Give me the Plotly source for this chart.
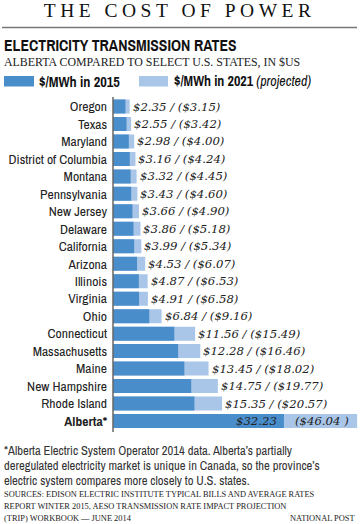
import plotly.graph_objects as go

states = ["Oregon", "Texas", "Maryland", "District of Columbia", "Montana",
          "Pennsylvania", "New Jersey", "Delaware", "California", "Arizona",
          "Illinois", "Virginia", "Ohio", "Connecticut", "Massachusetts",
          "Maine", "New Hampshire", "Rhode Island", "Alberta*"]
rate_2015 = [2.35, 2.55, 2.98, 3.16, 3.32, 3.43, 3.66, 3.86, 3.99, 4.53,
             4.87, 4.91, 6.84, 11.56, 12.28, 13.45, 14.75, 15.35, 32.23]
rate_2021 = [3.15, 3.42, 4.00, 4.24, 4.45, 4.60, 4.90, 5.18, 5.34, 6.07,
             6.53, 6.58, 9.16, 15.49, 16.46, 18.02, 19.77, 20.57, 46.04]

W, H = 360, 524
DARK = "#4a8dcb"
LIGHT = "#a9c6e9"
SANS_N = "Archivo Narrow, Roboto Condensed, DejaVu Sans Condensed, Roboto, sans-serif"
SERIF = "Liberation Serif, DejaVu Serif, serif"
SERIF_IT = "DejaVu Serif, Liberation Serif, serif"


def px(x):
    return x / W


def py(y):
    return 1 - y / H


ticktext = [("<b>%s</b>" % s) if s.startswith("Alberta") else s for s in states]

fig = go.Figure()
fig.add_trace(go.Bar(y=states, x=rate_2021, orientation="h", marker_color=LIGHT,
                     marker_line_width=0, width=0.8, name="$/MWh in 2021 (projected)",
                     showlegend=False, hoverinfo="x+y"))
fig.add_trace(go.Bar(y=states, x=rate_2015, orientation="h", marker_color=DARK,
                     marker_line_width=0, width=0.8, name="$/MWh in 2015",
                     showlegend=False, hoverinfo="x+y"))

annotations = []
lab_font = dict(family=SERIF_IT, size=11.7, color="#222", style="italic")
for s, a, b in zip(states, rate_2015, rate_2021):
    if s.startswith("Alberta"):
        annotations.append(dict(x=a, y=s, xref="x", yref="y", text="$%.2f" % a,
                                showarrow=False, xanchor="right", xshift=-5, font=lab_font))
        annotations.append(dict(x=b, y=s, xref="x", yref="y", text="($%.2f )" % b,
                                showarrow=False, xanchor="right", xshift=-6, font=lab_font))
    else:
        annotations.append(dict(x=b, y=s, xref="x", yref="y",
                                text="$%.2f / ($%.2f)" % (a, b),
                                showarrow=False, xanchor="left", xshift=1, font=lab_font))

# Header texts
annotations.append(dict(x=px(179), y=py(11), xref="paper", yref="paper", text="THE COST OF POWER",
                        showarrow=False, xanchor="center", yanchor="middle",
                        font=dict(family=SERIF, size=19.5, color="#111")))
annotations.append(dict(x=px(2), y=py(46), xref="paper", yref="paper",
                        text="<b>ELECTRICITY TRANSMISSION RATES</b>",
                        showarrow=False, xanchor="left", yanchor="middle",
                        font=dict(family=SANS_N, size=15.7, color="#111")))
annotations.append(dict(x=px(2), y=py(62.5), xref="paper", yref="paper",
                        text="ALBERTA COMPARED TO SELECT U.S. STATES, IN $US",
                        showarrow=False, xanchor="left", yanchor="middle",
                        font=dict(family=SERIF, size=11.9, color="#222")))
# Legend
annotations.append(dict(x=px(37), y=py(81), xref="paper", yref="paper",
                        text="<b>$/MWh in 2015</b>", showarrow=False, xanchor="left",
                        yanchor="middle", font=dict(family=SANS_N, size=14.3, color="#111")))
annotations.append(dict(x=px(172), y=py(81), xref="paper", yref="paper",
                        text="<b>$/MWh in 2021</b> <i>(projected)</i>", showarrow=False,
                        xanchor="left", yanchor="middle",
                        font=dict(family=SANS_N, size=14, color="#111")))

# Footnote
foot = ["*Alberta Electric System Operator 2014 data. Alberta\u2019s partially",
        "deregulated electricity market is unique in Canada, so the province\u2019s",
        "electric system compares more closely to U.S. states."]
for i, line in enumerate(foot):
    annotations.append(dict(x=px(2), y=py(450 + i * 15.2), xref="paper", yref="paper",
                            text=line, showarrow=False, xanchor="left", yanchor="middle",
                            font=dict(family=SANS_N, size=12.6, color="#333")))
src = ["SOURCES: EDISON ELECTRIC INSTITUTE TYPICAL BILLS AND AVERAGE RATES",
       "REPORT WINTER 2015, AESO TRANSMISSION RATE IMPACT PROJECTION",
       "(TRIP) WORKBOOK \u2014 JUNE 2014"]
for i, line in enumerate(src):
    annotations.append(dict(x=px(2), y=py(494 + i * 12), xref="paper", yref="paper",
                            text=line, showarrow=False, xanchor="left", yanchor="middle",
                            font=dict(family=SERIF, size=8.4, color="#222")))
annotations.append(dict(x=px(357), y=py(518), xref="paper", yref="paper",
                        text="NATIONAL POST", showarrow=False, xanchor="right", yanchor="middle",
                        font=dict(family=SERIF, size=8.4, color="#222")))

shapes = [
    dict(type="line", xref="paper", yref="paper", x0=px(2), x1=px(357), y0=py(27.5), y1=py(27.5),
         line=dict(color="#777", width=1.5)),
    dict(type="rect", xref="paper", yref="paper", x0=px(4), x1=px(34), y0=py(86.5), y1=py(76),
         fillcolor=DARK, line_width=0),
    dict(type="rect", xref="paper", yref="paper", x0=px(139), x1=px(168), y0=py(86.5), y1=py(76),
         fillcolor=LIGHT, line_width=0),
    dict(type="line", xref="paper", yref="paper", x0=px(113), x1=px(113), y0=py(97), y1=py(432),
         line=dict(color="#666", width=1.5)),
]

fig.update_layout(
    template="none",
    width=W, height=H, margin=dict(l=0, r=0, t=0, b=0, autoexpand=False),
    paper_bgcolor="white", plot_bgcolor="white",
    barmode="overlay", bargap=0.2,
    annotations=annotations, shapes=shapes,
    xaxis=dict(domain=[px(113), px(358)], range=[0, 46.2], visible=False, fixedrange=True,
               automargin=False),
    yaxis=dict(domain=[py(430), py(97.5)], autorange="reversed", tickmode="array",
               tickvals=states, ticktext=ticktext, ticks="", showline=False,
               showgrid=False, zeroline=False, ticklabelstandoff=5, automargin=False,
               tickfont=dict(family=SANS_N, size=13.6, color="#222"), fixedrange=True),
    showlegend=False,
)

post = """
document.body.style.margin = '0';
document.querySelectorAll('.annotation-text').forEach(function(t){
  if (t.textContent === 'THE COST OF POWER') { t.style.letterSpacing = '4.5px'; }
});
"""
fig.write_html("out.html", post_script=post, config={"displayModeBar": False})
